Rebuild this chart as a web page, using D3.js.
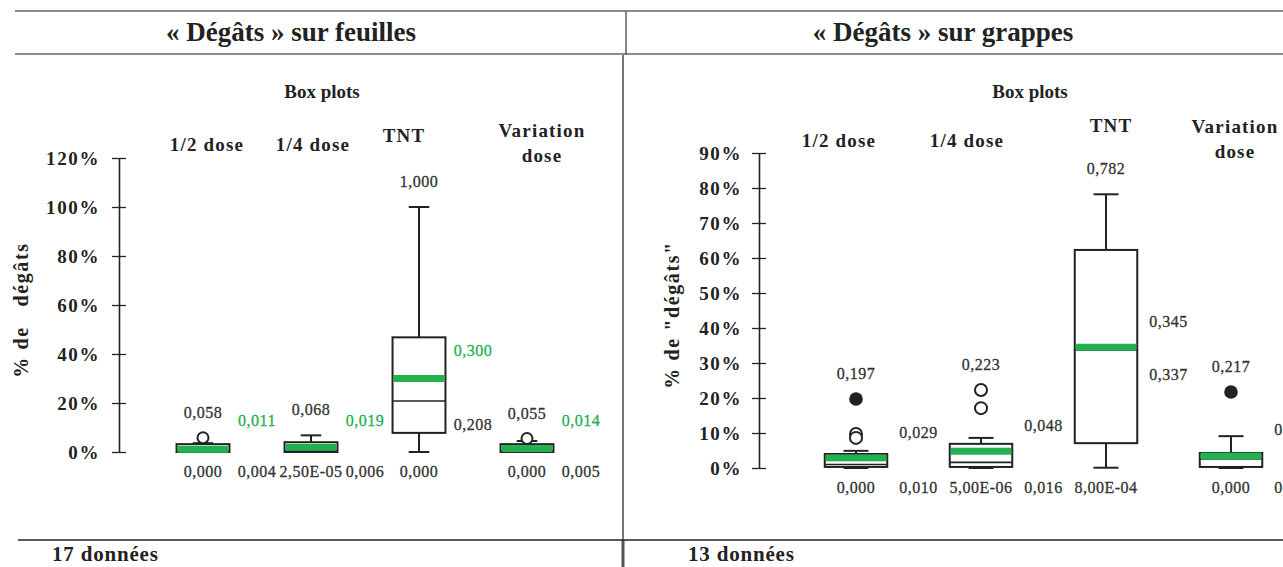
<!DOCTYPE html>
<html><head><meta charset="utf-8">
<script src="https://cdn.jsdelivr.net/npm/d3@7"></script>
<style>
body{margin:0;background:#fff}
svg{display:block;background:#fff}
text{font-family:"Liberation Serif","Times New Roman",serif}
</style>
</head><body>
<svg id="c" width="1283" height="567"></svg>
<script>
// ---------------- DATA ----------------
const categories = ["1/2 dose", "1/4 dose", "TNT", "Variation dose"];

// « Dégâts » sur feuilles (17 données)
const leafMin          = [0, 0.000025, 0, 0];
const leafQ1           = [0, 0, 0.078, 0];
const leafMedian       = [0.004, 0.006, 0.208, 0.005];
const leafMean         = [0.011, 0.019, 0.300, 0.014];
const leafQ3           = [0.032, 0.040, 0.468, 0.032];
const leafWhiskerHigh  = [0.036, 0.068, 1.000, 0.045];
const leafOutliersOpen   = [[0.058], [], [], [0.055]];
const leafOutliersFilled = [[], [], [], []];
const leafMax          = [0.058, 0.068, 1.000, 0.055];
const leafYTicks       = [0, 0.2, 0.4, 0.6, 0.8, 1.0, 1.2];

// « Dégâts » sur grappes (13 données)
const bunchMin          = [0, 0.000005, 0.0008, 0];
const bunchQ1           = [0.003, 0.003, 0.071, 0.003];
const bunchMedian       = [0.010, 0.016, 0.337, 0.026];
const bunchMean         = [0.029, 0.048, 0.345, 0.034];
const bunchQ3           = [0.040, 0.069, 0.623, 0.043];
const bunchWhiskerHigh  = [0.049, 0.086, 0.782, 0.091];
const bunchOutliersOpen   = [[0.097, 0.086], [0.223, 0.171], [], []];
const bunchOutliersFilled = [[0.197], [], [], [0.217]];
const bunchMax          = [0.197, 0.223, 0.782, 0.217];
const bunchYTicks       = [0, 0.1, 0.2, 0.3, 0.4, 0.5, 0.6, 0.7, 0.8, 0.9];

// ---------------- LAYOUT ----------------
const GREEN = "#23b04f";
const INK = "#222";
const LABEL_INK = "#333";

const panels = [
  {
    title: "« Dégâts » sur feuilles", titleX: 291, subX: 322, count: "17 données", countX: 52,
    yLabel: "% de   dégâts", yLabelX: 28, yLabelY: 310,
    axisX: 119, yDomain: [0, 1.2], yRange: [452, 158], ticks: leafYTicks, tickPad: 12,
    xRange: [203, 527], boxRatio: 0.49, capRatio: 0.19, rOut: 5.5,
    bottomLabelY: 477, meanColor: GREEN,
    meanLabelAt: [0.127, 0.127, 0.413, 0.127], medianLabelAt: [null, null, 0.11, null],
    headers: [{dx: 4, y: 151}, {dx: 2, y: 151}, {dx: -15, y: 142}, {dx: 15, y: 137, dy2: 25}],
    min: leafMin, q1: leafQ1, med: leafMedian, mean: leafMean, q3: leafQ3, wh: leafWhiskerHigh,
    outOpen: leafOutliersOpen, outFilled: leafOutliersFilled, max: leafMax
  },
  {
    title: "« Dégâts » sur grappes", titleX: 943, subX: 1030, count: "13 données", countX: 688,
    yLabel: "% de \"dégâts\"", yLabelX: 679, yLabelY: 315,
    axisX: 759, yDomain: [0, 0.9], yRange: [468, 153], ticks: bunchYTicks, tickPad: 10,
    xRange: [856, 1231], boxRatio: 0.5, capRatio: 0.2, rOut: 6,
    bottomLabelY: 493, meanColor: LABEL_INK,
    meanLabelAt: [0.10, 0.12, 0.417, 0.11], medianLabelAt: [null, null, 0.266, null],
    headers: [{dx: -17, y: 147}, {dx: -14, y: 147}, {dx: 5, y: 132}, {dx: 4, y: 133, dy2: 25}],
    min: bunchMin, q1: bunchQ1, med: bunchMedian, mean: bunchMean, q3: bunchQ3, wh: bunchWhiskerHigh,
    outOpen: bunchOutliersOpen, outFilled: bunchOutliersFilled, max: bunchMax
  }
];

function fmt(v) {
  if (v > 0 && v < 0.001) {
    const [m, e] = v.toExponential(2).split("e");
    const ex = parseInt(e, 10);
    const sign = ex < 0 ? "-" : "+";
    return m.replace(".", ",") + "E" + sign + String(Math.abs(ex)).padStart(2, "0");
  }
  return v.toFixed(3).replace(".", ",");
}

const svg = d3.select("#c");
svg.append("rect").attr("width", 1283).attr("height", 567).attr("fill", "#fff");

// frame lines
const frame = svg.append("g").attr("fill", "none");
frame.append("line").attr("x1", 15).attr("x2", 1283).attr("y1", 11).attr("y2", 11).attr("stroke", "#666").attr("stroke-width", 1.6);
frame.append("line").attr("x1", 15).attr("x2", 1283).attr("y1", 54).attr("y2", 54).attr("stroke", "#666").attr("stroke-width", 1.6);
frame.append("line").attr("x1", 626).attr("x2", 626).attr("y1", 11).attr("y2", 55).attr("stroke", "#555").attr("stroke-width", 1.4);
frame.append("line").attr("x1", 623).attr("x2", 623).attr("y1", 55).attr("y2", 540).attr("stroke", "#555").attr("stroke-width", 1.6);
frame.append("line").attr("x1", 623).attr("x2", 623).attr("y1", 540).attr("y2", 567).attr("stroke", "#555").attr("stroke-width", 3);
frame.append("line").attr("x1", 18).attr("x2", 1283).attr("y1", 540).attr("y2", 540).attr("stroke", INK).attr("stroke-width", 1.5);

panels.forEach(p => {
  const g = svg.append("g");
  const y = d3.scaleLinear().domain(p.yDomain).range(p.yRange);
  const x = d3.scalePoint().domain(categories).range(p.xRange);
  const step = x.step();
  const bw = step * p.boxRatio;
  const cw = step * p.capRatio;

  // titles
  g.append("text").attr("x", p.titleX).attr("y", 41).attr("text-anchor", "middle")
    .attr("font-size", 27).attr("font-weight", "bold").style("fill", INK).text(p.title);
  g.append("text").attr("x", p.subX).attr("y", 98).attr("text-anchor", "middle")
    .attr("font-size", 19).attr("font-weight", "bold").style("fill", INK).text("Box plots");
  g.append("text").attr("x", p.countX).attr("y", 561)
    .attr("font-size", 21).attr("font-weight", "bold").attr("letter-spacing", 0.8).style("fill", INK).text(p.count);

  // y label
  g.append("text").attr("transform", `translate(${p.yLabelX},${p.yLabelY}) rotate(-90)`)
    .attr("text-anchor", "middle").attr("font-size", 20).attr("font-weight", "bold")
    .attr("letter-spacing", 1.6).style("white-space", "pre").style("fill", INK).text(p.yLabel);

  // axis
  const axis = d3.axisLeft(y).tickValues(p.ticks)
    .tickFormat(d => Math.round(d * 100) + "%")
    .tickSizeOuter(0).tickSizeInner(7).tickPadding(p.tickPad);
  const ag = g.append("g").attr("transform", `translate(${p.axisX},0)`).call(axis);
  ag.select(".domain").attr("stroke", INK).attr("stroke-width", 1.6);
  ag.selectAll(".tick line").attr("x1", -7).attr("x2", 7).attr("stroke", INK).attr("stroke-width", 1.3);
  ag.selectAll(".tick text").attr("font-family", "Liberation Serif, serif").attr("font-size", 19)
    .attr("font-weight", "bold").attr("letter-spacing", 1.6).style("fill", INK);

  // headers
  categories.forEach((c, i) => {
    const h = p.headers[i];
    const cx = x(c) + h.dx;
    const t = g.append("text").attr("text-anchor", "middle").attr("font-size", 19)
      .attr("font-weight", "bold").attr("letter-spacing", 1.2).style("fill", INK);
    if (h.dy2) {
      const parts = c.split(" ");
      t.append("tspan").attr("x", cx).attr("y", h.y).text(parts[0]);
      t.append("tspan").attr("x", cx).attr("y", h.y + h.dy2).text(parts.slice(1).join(" "));
    } else {
      t.attr("x", cx).attr("y", h.y).text(c);
    }
  });

  // boxes
  categories.forEach((c, i) => {
    const cx = x(c);
    const bg = g.append("g");
    // whiskers
    bg.append("line").attr("x1", cx).attr("x2", cx).attr("y1", y(p.q3[i])).attr("y2", y(p.wh[i]))
      .attr("stroke", INK).attr("stroke-width", 2);
    bg.append("line").attr("x1", cx).attr("x2", cx).attr("y1", y(p.q1[i])).attr("y2", y(p.min[i]))
      .attr("stroke", INK).attr("stroke-width", 2);
    bg.append("line").attr("x1", cx - cw / 2).attr("x2", cx + cw / 2).attr("y1", y(p.wh[i])).attr("y2", y(p.wh[i]))
      .attr("stroke", INK).attr("stroke-width", 2);
    bg.append("line").attr("x1", cx - cw / 2).attr("x2", cx + cw / 2).attr("y1", y(p.min[i])).attr("y2", y(p.min[i]))
      .attr("stroke", INK).attr("stroke-width", 2);
    // box
    bg.append("rect").attr("x", cx - bw / 2).attr("width", bw)
      .attr("y", y(p.q3[i])).attr("height", Math.max(0.5, y(p.q1[i]) - y(p.q3[i])))
      .attr("fill", "#fff").attr("stroke", INK).attr("stroke-width", 2);
    // median
    bg.append("line").attr("x1", cx - bw / 2).attr("x2", cx + bw / 2)
      .attr("y1", y(p.med[i])).attr("y2", y(p.med[i])).attr("stroke", INK).attr("stroke-width", 1.6);
    // mean band
    bg.append("rect").attr("x", cx - bw / 2 + 1).attr("width", bw - 2)
      .attr("y", y(p.mean[i]) - 3.5).attr("height", 7).attr("fill", GREEN);
    // outliers
    p.outOpen[i].forEach(v => {
      bg.append("circle").attr("cx", cx).attr("cy", y(v)).attr("r", p.rOut)
        .attr("fill", "#fff").attr("stroke", INK).attr("stroke-width", 2);
    });
    p.outFilled[i].forEach(v => {
      bg.append("circle").attr("cx", cx).attr("cy", y(v)).attr("r", p.rOut + 0.8).attr("fill", INK);
    });

    // labels
    const lab = (tx, ty, s, col) => g.append("text").attr("x", tx).attr("y", ty)
      .attr("text-anchor", "middle").attr("font-size", 16).attr("letter-spacing", 0.5)
      .style("fill", col || LABEL_INK).style("stroke", col || LABEL_INK).style("stroke-width", 0.3)
      .text(s);
    lab(cx, y(p.max[i]) - 20, fmt(p.max[i]));
    lab(cx, p.bottomLabelY, fmt(p.min[i]));
    const rx = cx + step / 2;
    lab(rx, y(p.meanLabelAt[i]) + 5, fmt(p.mean[i]), p.meanColor);
    const my = p.medianLabelAt[i] === null ? p.bottomLabelY : y(p.medianLabelAt[i]) + 5;
    lab(rx, my, fmt(p.med[i]));
  });
});
</script>
</body></html>
